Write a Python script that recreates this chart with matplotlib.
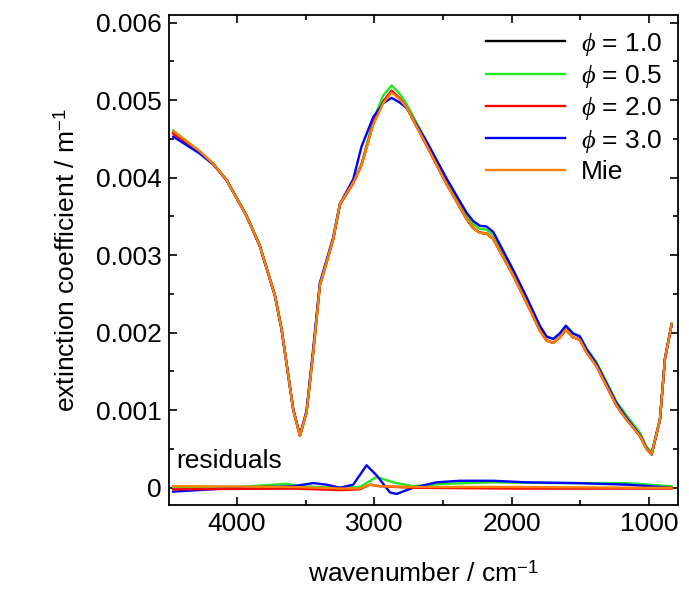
import matplotlib
matplotlib.use("Agg")
import matplotlib.pyplot as plt
from matplotlib.ticker import MultipleLocator

plt.rcParams['font.family'] = ['Liberation Sans', 'DejaVu Sans']
plt.rcParams['mathtext.fontset'] = 'custom'
plt.rcParams['mathtext.it'] = 'Liberation Serif:italic'
plt.rcParams['mathtext.rm'] = 'Liberation Sans'

wn = [4463, 4269, 4172, 4075, 3930, 3833, 3723, 3675, 3590, 3541, 3493, 3444, 3396, 3299, 3250,
      3153, 3093, 3008, 2935, 2874, 2814, 2765, 2620, 2474, 2329, 2280, 2232, 2183, 2134, 1989,
      1892, 1795, 1746, 1698, 1650, 1606, 1553, 1504, 1456, 1383, 1237, 1164, 1067, 1018, 982,
      921, 885, 836]
mie = [0.00460, 0.00434, 0.00418, 0.00397, 0.00351, 0.00312, 0.00248, 0.00205, 0.00101, 0.00067,
       0.00097, 0.00175, 0.00261, 0.00321, 0.00366, 0.00394, 0.00416, 0.00468, 0.00496, 0.00510,
       0.00501, 0.00491, 0.00442, 0.00392, 0.00347, 0.00335, 0.00329, 0.00328, 0.00321, 0.00274,
       0.00239, 0.00203, 0.00190, 0.00187, 0.00194, 0.00204, 0.00194, 0.00191, 0.00175, 0.00157,
       0.00106, 0.00088, 0.00067, 0.00050, 0.00043, 0.00088, 0.00166, 0.00211]
phi10 = [0.00458, 0.00433, 0.00418, 0.00397, 0.00351, 0.00312, 0.00248, 0.00205, 0.00101, 0.00067,
         0.00097, 0.00175, 0.00261, 0.00321, 0.00366, 0.00394, 0.00417, 0.00470, 0.00498, 0.00512,
         0.00502, 0.00491, 0.00442, 0.00392, 0.00347, 0.00335, 0.00329, 0.00328, 0.00321, 0.00274,
         0.00239, 0.00203, 0.00190, 0.00187, 0.00194, 0.00204, 0.00194, 0.00191, 0.00175, 0.00157,
         0.00106, 0.00088, 0.00067, 0.00050, 0.00043, 0.00088, 0.00166, 0.00211]
phi05 = [0.00461, 0.00434, 0.00418, 0.00397, 0.00352, 0.00313, 0.00249, 0.00206, 0.00101, 0.00067,
         0.00097, 0.00175, 0.00261, 0.00321, 0.00366, 0.00394, 0.00417, 0.00474, 0.00506, 0.00519,
         0.00508, 0.00495, 0.00447, 0.00397, 0.00352, 0.00340, 0.00334, 0.00333, 0.00326, 0.00279,
         0.00244, 0.00208, 0.00195, 0.00192, 0.00199, 0.00209, 0.00199, 0.00196, 0.00180, 0.00162,
         0.00111, 0.00093, 0.00071, 0.00053, 0.00045, 0.00089, 0.00167, 0.00212]
phi20 = [0.00457, 0.00432, 0.00418, 0.00397, 0.00351, 0.00312, 0.00248, 0.00205, 0.00101, 0.00067,
         0.00097, 0.00175, 0.00261, 0.00320, 0.00365, 0.00393, 0.00416, 0.00470, 0.00498, 0.00512,
         0.00502, 0.00491, 0.00442, 0.00392, 0.00347, 0.00335, 0.00329, 0.00328, 0.00321, 0.00274,
         0.00239, 0.00203, 0.00190, 0.00187, 0.00194, 0.00204, 0.00194, 0.00191, 0.00175, 0.00157,
         0.00106, 0.00088, 0.00067, 0.00050, 0.00043, 0.00088, 0.00166, 0.00211]
phi30 = [0.00453, 0.00431, 0.00417, 0.00397, 0.00351, 0.00312, 0.00248, 0.00205, 0.00102, 0.00068,
         0.00099, 0.00180, 0.00264, 0.00323, 0.00366, 0.00398, 0.00440, 0.00478, 0.00496, 0.00503,
         0.00497, 0.00490, 0.00447, 0.00399, 0.00355, 0.00344, 0.00338, 0.00337, 0.00330, 0.00281,
         0.00246, 0.00209, 0.00195, 0.00192, 0.00199, 0.00209, 0.00199, 0.00195, 0.00179, 0.00160,
         0.00109, 0.00090, 0.00068, 0.00051, 0.00043, 0.00088, 0.00166, 0.00211]

res_blue_x = [4463, 4000, 3590, 3444, 3347, 3250, 3153, 3056, 2983, 2886, 2838, 2717, 2547, 2377, 2134, 1892, 1528, 1164, 836]
res_blue_y = [-0.00005, 0.0, 0.00002, 0.00006, 0.00004, 0.0, 0.00004, 0.00029, 0.00016, -0.00006, -0.00008, 0.0, 0.00007, 0.00009, 0.00009, 0.00007, 0.00006, 0.00004, 0.0]
res_green_x = [4463, 4000, 3639, 3541, 3250, 3105, 2983, 2862, 2717, 2498, 2134, 1650, 1164, 836]
res_green_y = [0.00001, 0.00001, 0.00005, 0.00002, 0.0, 0.00001, 0.00014, 0.00007, 0.00002, 0.00005, 0.00007, 0.00006, 0.00006, 0.00002]
res_red_x = [4463, 3590, 3250, 3105, 3032, 2960, 2717, 2000, 1000, 836]
res_red_y = [-0.00002, -0.00001, -0.00003, -0.00002, 0.00004, 0.00002, 0.0, -0.00001, -0.00001, -0.00001]
res_orange_x = [4463, 3590, 3250, 3105, 3032, 2960, 2717, 2000, 1000, 836]
res_orange_y = [0.00002, 0.00001, -0.00001, -0.00001, 0.00004, 0.00002, 0.00001, 0.00001, 0.0, 0.0]

fig = plt.figure(figsize=(6.89, 5.96), dpi=100)
ax = fig.add_axes([0.245, 0.153, 0.739, 0.822])
lw = 1.7
ax.plot(wn, phi10, color='black', lw=lw, label=r'$\phi$ = 1.0')
ax.plot(wn, phi05, color='#22e822', lw=lw, label=r'$\phi$ = 0.5')
ax.plot(wn, phi20, color='red', lw=lw, label=r'$\phi$ = 2.0')
ax.plot(wn, phi30, color='blue', lw=lw, label=r'$\phi$ = 3.0')
ax.plot(wn, mie, color='#ff8000', lw=lw, label='Mie')
ax.plot(res_green_x, res_green_y, color='#22e822', lw=lw)
ax.plot(res_blue_x, res_blue_y, color='blue', lw=lw)
ax.plot(res_red_x, res_red_y, color='red', lw=lw)
ax.plot(res_orange_x, res_orange_y, color='#ff8000', lw=lw)

ax.set_xlim(4495, 790)
ax.set_ylim(-0.00022, 0.0061)
ax.xaxis.set_major_locator(MultipleLocator(1000))
ax.xaxis.set_minor_locator(MultipleLocator(500))
ax.yaxis.set_minor_locator(MultipleLocator(0.0005))
ax.set_yticks([0, 0.001, 0.002, 0.003, 0.004, 0.005, 0.006])
ax.set_yticklabels(['0', '0.001', '0.002', '0.003', '0.004', '0.005', '0.006'])
ax.tick_params(which='both', direction='in', top=True, right=True, labelsize=19, width=1.2)
ax.tick_params(which='major', length=6, pad=5)
ax.tick_params(which='minor', length=3.5)
for s in ax.spines.values():
    s.set_linewidth(1.3)
ax.set_xlabel('wavenumber / cm$^{-1}$', fontsize=19, labelpad=18)
ax.set_ylabel('extinction coefficient / m$^{-1}$', fontsize=19, labelpad=12)
ax.text(4440, 0.00025, 'residuals', fontsize=19)
ax.legend(loc='upper right', frameon=False, fontsize=19, handlelength=3.0,
          borderaxespad=0.2, labelspacing=0.2, handletextpad=0.6)
fig.savefig('out.png', dpi=100)
